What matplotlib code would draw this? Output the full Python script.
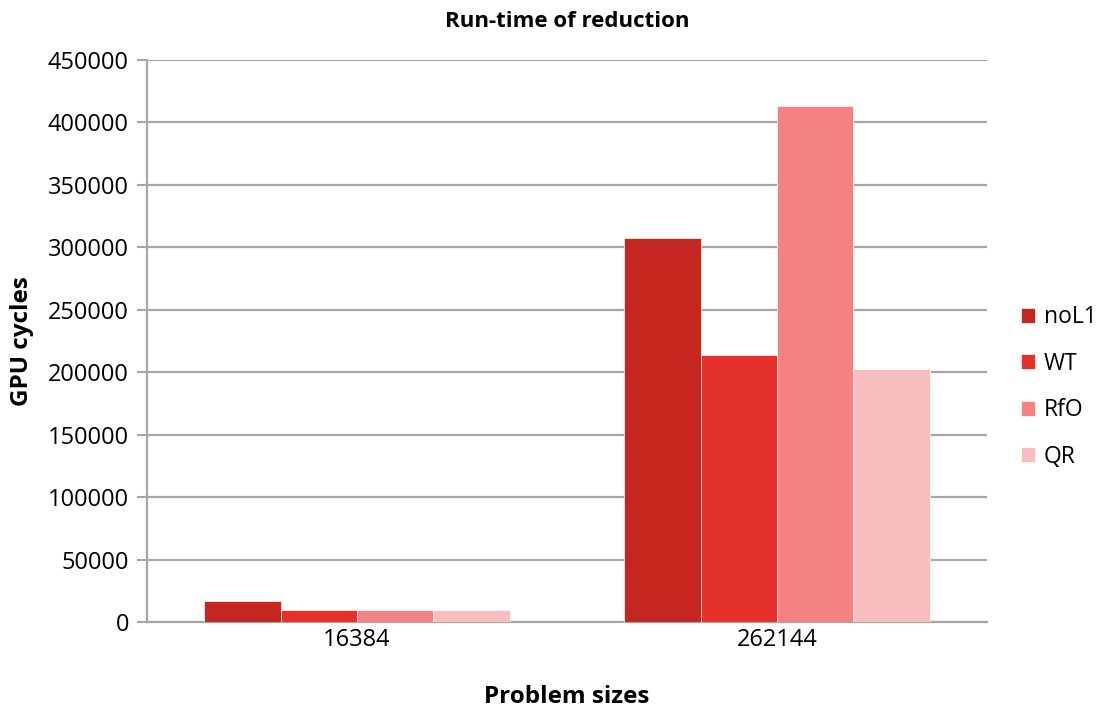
import matplotlib.pyplot as plt
import numpy as np

plt.rcParams['font.family'] = ['Open Sans', 'DejaVu Sans']

sizes = ["16384", "262144"]
series = ["noL1", "WT", "RfO", "QR"]
noL1 = [16500, 307500]
WT = [9800, 213500]
RfO = [9800, 413500]
QR = [9800, 202500]
colors = ["#C62620", "#E5302B", "#F58282", "#F8BEBE"]

fig = plt.figure(figsize=(11.05, 7.13), dpi=100)
ax = fig.add_axes([147 / 1105, 1 - 622 / 713, (987 - 147) / 1105, (622 - 60) / 713])

x = np.arange(len(sizes))
w = 0.182
for i, (name, vals) in enumerate(zip(series, [noL1, WT, RfO, QR])):
    ax.bar(x + (i - 1.5) * w, vals, w, color=colors[i], label=name,
           edgecolor="white", linewidth=0.5, zorder=3)

ax.set_xlim(-0.5, 1.5)
ax.set_ylim(0, 450000)
ax.set_yticks(range(0, 450001, 50000))
ax.set_xticks(x)
ax.set_xticklabels(sizes)
ax.tick_params(axis="x", length=0, pad=4, labelsize=17)
ax.tick_params(axis="y", length=7, width=1.5, color="#A6A6A6", pad=6, labelsize=17)
ax.grid(axis="y", color="#A6A6A6", linewidth=1.6, zorder=0)
for s in ["top", "right"]:
    ax.spines[s].set_visible(False)
for s in ["left", "bottom"]:
    ax.spines[s].set_color("#A6A6A6")
    ax.spines[s].set_linewidth(1.6)

ax.set_title("Run-time of reduction", fontsize=16, fontweight="bold", pad=24)
ax.set_xlabel("Problem sizes", fontsize=17.5, fontweight="bold", labelpad=24)
ax.set_ylabel("GPU cycles", fontsize=17.5, fontweight="bold", labelpad=10)

ax.legend(loc="center left", bbox_to_anchor=(1.04, 0.418), frameon=False,
          fontsize=16.5, handlelength=0.65, handleheight=0.65, labelspacing=0.98,
          handletextpad=0.35, borderpad=0, borderaxespad=0)

fig.savefig("out.png", dpi=100)
